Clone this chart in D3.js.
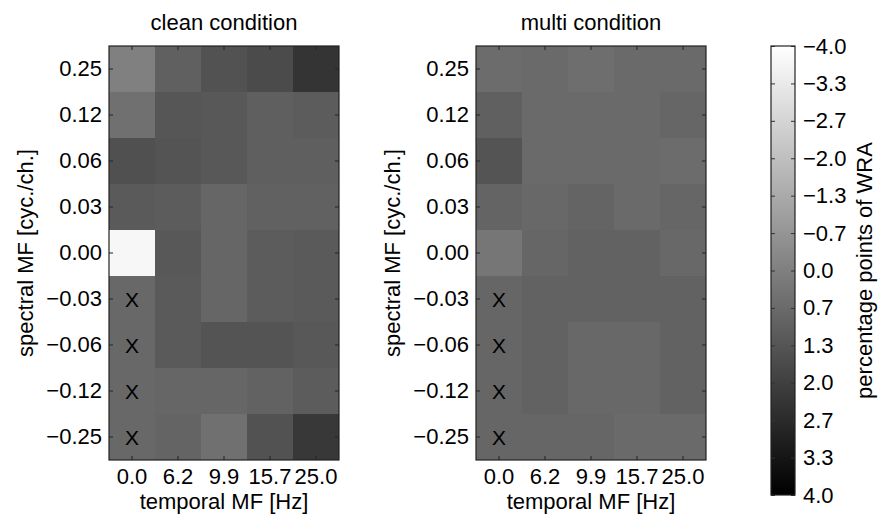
<!DOCTYPE html>
<html>
<head>
<meta charset="utf-8">
<script src="https://cdn.jsdelivr.net/npm/d3@7"></script>
<style>
  body { margin: 0; background: #fff; }
  svg { font-family: "Liberation Sans", Arial, sans-serif; }
</style>
</head>
<body>
<div id="chart"></div>
<script>
// axis categories
const temporal_mf = ["0.0", "6.2", "9.9", "15.7", "25.0"];
const spectral_mf = ["0.25", "0.12", "0.06", "0.03", "0.00", "\u22120.03", "\u22120.06", "\u22120.12", "\u22120.25"];

// percentage points of WRA, rows follow spectral_mf, columns follow temporal_mf
const clean_values = [
    [0.00, 0.99, 1.43, 1.65, 2.37],
    [0.49, 1.30, 1.24, 1.02, 1.11],
    [1.49, 1.36, 1.24, 1.02, 1.02],
    [1.18, 1.11, 0.80, 0.96, 0.96],
    [-3.75, 1.24, 0.80, 1.11, 1.18],
    [0.74, 1.18, 0.80, 1.11, 1.18],
    [0.74, 1.18, 1.36, 1.36, 1.24],
    [0.74, 0.80, 0.80, 0.93, 1.11],
    [0.74, 0.86, 0.49, 1.43, 2.24]
];
const multi_values = [
    [0.61, 0.67, 0.55, 0.67, 0.67],
    [0.99, 0.67, 0.67, 0.67, 0.80],
    [1.36, 0.67, 0.67, 0.67, 0.61],
    [0.86, 0.74, 0.86, 0.67, 0.80],
    [0.30, 0.80, 0.93, 0.93, 0.74],
    [0.80, 0.93, 0.93, 0.93, 0.93],
    [0.80, 0.93, 0.74, 0.74, 0.93],
    [0.80, 0.93, 0.74, 0.74, 0.93],
    [0.80, 0.80, 0.80, 0.67, 0.67]
];
// cells marked with an X: [row, col]
const marked_cells = [[5, 0], [6, 0], [7, 0], [8, 0]];

const colorbar_ticks = d3.range(13).map(i => -4 + i * 8 / 12);

const width = 879, height = 520;
const fontSize = 22;

const svg = d3.select("#chart").append("svg")
    .attr("width", width)
    .attr("height", height);

const color = d3.scaleLinear().domain([-4, 4]).range(["#ffffff", "#000000"]).clamp(true);

function heatmap(left, title, values) {
    const top = 46, w = 230, h = 414;
    const x = d3.scaleBand().domain(temporal_mf).range([left, left + w]);
    const y = d3.scaleBand().domain(spectral_mf).range([top, top + h]);

    const cells = [];
    values.forEach((row, i) => row.forEach((v, j) => cells.push({ r: spectral_mf[i], c: temporal_mf[j], v: v })));

    const g = svg.append("g");
    g.append("g").selectAll("rect")
        .data(cells)
        .join("rect")
        .attr("x", d => x(d.c))
        .attr("y", d => y(d.r))
        .attr("width", x.bandwidth())
        .attr("height", y.bandwidth())
        .attr("fill", d => color(d.v))
        .attr("shape-rendering", "crispEdges");

    g.append("g").selectAll("text")
        .data(marked_cells)
        .join("text")
        .attr("x", d => x(temporal_mf[d[1]]) + x.bandwidth() / 2)
        .attr("y", d => y(spectral_mf[d[0]]) + y.bandwidth() / 2)
        .attr("dy", "0.36em")
        .attr("text-anchor", "middle")
        .attr("font-size", 21)
        .attr("fill", "#000")
        .text("X");

    // ticks on all four sides, pointing inwards
    const axes = [
        g.append("g").attr("transform", `translate(${left},0)`)
            .call(d3.axisLeft(y).tickSizeInner(-4).tickSizeOuter(0).tickPadding(7)),
        g.append("g").attr("transform", `translate(${left + w},0)`)
            .call(d3.axisRight(y).tickSizeInner(-4).tickSizeOuter(0).tickFormat("")),
        g.append("g").attr("transform", `translate(0,${top + h})`)
            .call(d3.axisBottom(x).tickSizeInner(-4).tickSizeOuter(0).tickPadding(8)),
        g.append("g").attr("transform", `translate(0,${top})`)
            .call(d3.axisTop(x).tickSizeInner(-4).tickSizeOuter(0).tickFormat(""))
    ];
    axes.forEach(a => {
        a.select(".domain").remove();
        a.selectAll(".tick line").attr("stroke", "#222");
        a.selectAll(".tick text").attr("font-size", fontSize).attr("fill", "#000")
            .attr("font-family", "Liberation Sans, Arial, sans-serif");
    });

    g.append("rect")
        .attr("x", left).attr("y", top)
        .attr("width", w).attr("height", h)
        .attr("fill", "none").attr("stroke", "#222").attr("stroke-width", 1.2);

    g.append("text")
        .attr("x", left + w / 2).attr("y", 30)
        .attr("text-anchor", "middle").attr("font-size", fontSize)
        .text(title);

    g.append("text")
        .attr("x", left + w / 2).attr("y", 509)
        .attr("text-anchor", "middle").attr("font-size", fontSize)
        .text("temporal MF [Hz]");

    g.append("text")
        .attr("transform", `translate(${left - 76},${top + h / 2}) rotate(-90)`)
        .attr("text-anchor", "middle").attr("font-size", fontSize)
        .text("spectral MF [cyc./ch.]");
}

heatmap(109, "clean condition", clean_values);
heatmap(476, "multi condition", multi_values);

// colorbar
const cb = { x: 771, y: 46, w: 24, h: 449 };
const cy = d3.scaleLinear().domain([-4, 4]).range([cb.y, cb.y + cb.h]);

const grad = svg.append("defs").append("linearGradient")
    .attr("id", "cbgrad").attr("x1", 0).attr("y1", 0).attr("x2", 0).attr("y2", 1);
grad.append("stop").attr("offset", "0%").attr("stop-color", color(-4));
grad.append("stop").attr("offset", "100%").attr("stop-color", color(4));

svg.append("rect")
    .attr("x", cb.x).attr("y", cb.y)
    .attr("width", cb.w).attr("height", cb.h)
    .attr("fill", "url(#cbgrad)");

const cbAxisR = svg.append("g").attr("transform", `translate(${cb.x + cb.w},0)`)
    .call(d3.axisRight(cy).tickValues(colorbar_ticks).tickSizeInner(-4).tickSizeOuter(0)
        .tickPadding(8).tickFormat(d3.format(".1f")));
const cbAxisL = svg.append("g").attr("transform", `translate(${cb.x},0)`)
    .call(d3.axisLeft(cy).tickValues(colorbar_ticks).tickSizeInner(-4).tickSizeOuter(0).tickFormat(""));
[cbAxisR, cbAxisL].forEach(a => {
    a.select(".domain").remove();
    a.selectAll(".tick line").attr("stroke", "#333");
    a.selectAll(".tick text").attr("font-size", fontSize).attr("fill", "#000")
        .attr("font-family", "Liberation Sans, Arial, sans-serif");
});
svg.append("rect")
    .attr("x", cb.x).attr("y", cb.y)
    .attr("width", cb.w).attr("height", cb.h)
    .attr("fill", "none").attr("stroke", "#222").attr("stroke-width", 1.2);

svg.append("text")
    .attr("transform", `translate(${872},${cb.y + cb.h / 2}) rotate(-90)`)
    .attr("text-anchor", "middle").attr("font-size", fontSize)
    .text("percentage points of WRA");
</script>
</body>
</html>
